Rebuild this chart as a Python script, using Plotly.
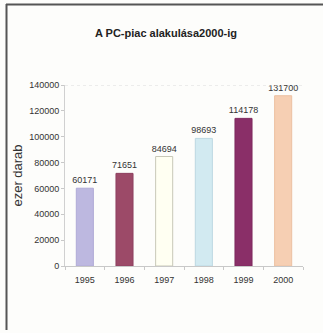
import plotly.graph_objects as go

# PC market data, thousand units per year
years = ["1995", "1996", "1997", "1998", "1999", "2000"]
units = [60171, 71651, 84694, 98693, 114178, 131700]
bar_colors = ["#bdb8e0", "#9c4a68", "#fffff2", "#d2eaf1", "#8a2f68", "#f6cfb3"]
bar_lines = ["#b0aad6", "#8e4060", "#c8c8b8", "#bcd8e2", "#7e2a5e", "#ecc0a2"]
y_ticks = [0, 20000, 40000, 60000, 80000, 100000, 120000, 140000]

W, H = 323, 333
ml, mr, mt, mb = 65, 20, 85, 67
pw, ph = W - ml - mr, H - mt - mb

def px_x(x):
    return (x - ml) / pw

def px_y(y):
    return (H - mb - y) / ph

fig = go.Figure()
fig.add_trace(go.Bar(
    x=years, y=units,
    marker=dict(color=bar_colors, line=dict(color=bar_lines, width=1)),
    width=0.43,
    text=[str(v) for v in units],
    textposition="outside",
    constraintext="none",
    textfont=dict(family="Liberation Sans, Arial", size=9, color="#333333"),
    cliponaxis=False,
))

fig.update_layout(
    width=W, height=H,
    margin=dict(l=ml, r=mr, t=mt, b=mb),
    paper_bgcolor="#fdfdfb",
    plot_bgcolor="#fdfdfb",
    showlegend=False,
    bargap=0.57,
    title=dict(
        text="<b>A PC-piac alakulása2000-ig</b>",
        x=px_x(166), xanchor="center", xref="paper",
        y=1 - 33 / H, yanchor="middle",
        font=dict(family="Liberation Sans, Arial", size=11, color="#222222"),
    ),
    xaxis=dict(
        type="category",
        showline=True, linecolor="#c8c8c8", linewidth=1,
        ticks="outside", ticklen=3, tickcolor="#c8c8c8",
        tickson="boundaries",
        ticklabelstandoff=5,
        showgrid=False,
        tickfont=dict(family="Liberation Sans, Arial", size=9, color="#333333"),
    ),
    yaxis=dict(
        range=[0, 140000],
        tickvals=y_ticks,
        ticktext=[str(v) for v in y_ticks],
        showline=True, linecolor="#d0d0d0", linewidth=1,
        ticks="outside", ticklen=3, tickcolor="#c8c8c8",
        showgrid=False,
        zeroline=False,
        tickfont=dict(family="Liberation Sans, Arial", size=9, color="#333333"),
        title=dict(text="ezer darab", standoff=3,
                   font=dict(family="Liberation Sans, Arial", size=13, color="#333333")),
    ),
)

# faint dotted top line at the axis maximum
fig.add_shape(type="line", xref="paper", yref="y", x0=0, x1=1, y0=140000, y1=140000,
              line=dict(color="#dcdcdc", width=1, dash="dot"))

# page frame: top and left rules
fig.add_shape(type="line", xref="paper", yref="paper",
              x0=px_x(6), x1=px_x(323), y0=px_y(4.5), y1=px_y(4.5),
              line=dict(color="#555555", width=2))
fig.add_shape(type="line", xref="paper", yref="paper",
              x0=px_x(6.5), x1=px_x(6.5), y0=px_y(4), y1=px_y(330),
              line=dict(color="#555555", width=2))

fig.write_html("out.html")
